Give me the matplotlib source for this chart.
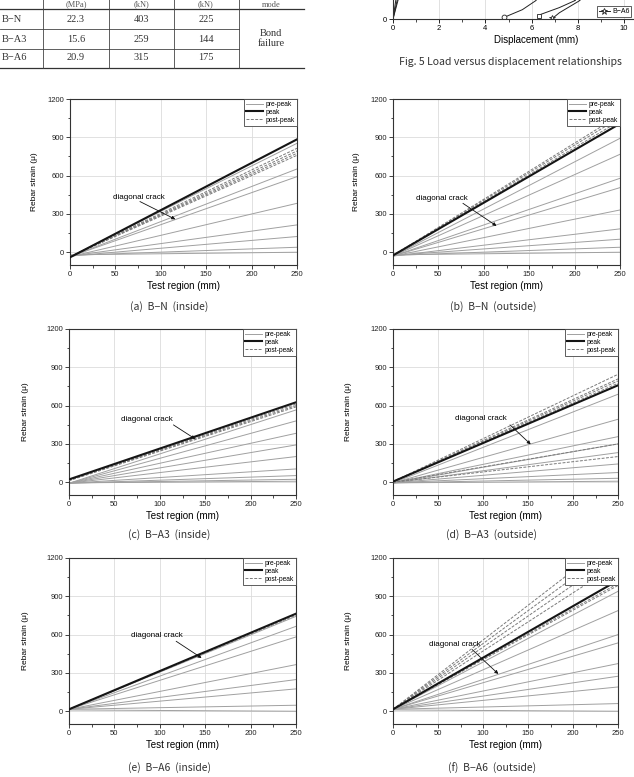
import matplotlib
matplotlib.use('Agg')
import matplotlib.pyplot as plt

W, H = 634, 777

# ===================================
# Data
# ===================================

# table fragment (top left)
specimens = ['B\u2212N', 'B\u2212A3', 'B\u2212A6']
strength_mpa = ['22.3', '15.6', '20.9']
load_1 = ['403', '259', '315']
load_2 = ['225', '144', '175']
table_head = ['(MPa)', '(kN)', '(kN)', 'mode']

# load-displacement fragment (top right)
disp_n = [0, 0.2, 0.4, 1.0, 2.5, 4.0, 5.6, 6.2, 5.6, 4.8]
load_n = [0, 60, 160, 403, 300, 160, 70, 36, 18, 3]
disp_a3 = [0, 0.3, 0.5, 1.2, 3.0, 5.0, 6.8, 7.9, 7.2, 6.4, 6.3]
load_a3 = [0, 60, 140, 259, 200, 120, 60, 36, 22, 9, 5]
disp_a6 = [0, 0.3, 0.7, 1.3, 3.2, 5.5, 7.4, 8.1, 7.2, 6.9]
load_a6 = [0, 50, 150, 315, 230, 120, 60, 36, 12, 1]

# strain distributions: value at x=0 and x=250 mm for every load step
region = [0, 250]

a_pre_start = [-20, -25, -30, -30, -35, -35, -35, -35]
a_pre_end = [0, 39, 123, 214, 383, 592, 652, 853]
a_peak = [-40, 884]
a_post_start = [-35, -35, -35, -35]
a_post_end = [814, 793, 775, 759]

b_pre_start = [-20, -25, -25, -30, -30, -30, -30, -30, -30]
b_pre_end = [0, 39, 102, 183, 331, 506, 579, 767, 892]
b_peak = [-25, 1007]
b_post_start = [-25, -25, -25]
b_post_end = [1030, 1055, 1075]

c_pre_start = [-5, -6, -8, -8, -8, -8, -8, -8, -8]
c_pre_end = [8, 23, 52, 104, 201, 292, 383, 480, 566]
c_peak = [22, 626]
c_post_start = [15, 15, 12]
c_post_end = [612, 600, 590]

d_pre_start = [-5, -5, -5, -5, -5, -5, -5, -5, -5]
d_pre_end = [8, 31, 76, 143, 232, 300, 357, 493, 689]
d_peak = [5, 759]
d_post_start = [5, 5, 5, 5, 0, 0]
d_post_end = [845, 809, 793, 775, 300, 201]

e_pre_start = [10, 15, 15, 15, 15, 15, 15, 15]
e_pre_end = [0, 47, 175, 248, 365, 582, 665, 743]
e_peak = [15, 764]
e_post_start = [15]
e_post_end = [752]

f_pre_start = [10, 15, 15, 15, 15, 15, 15, 15, 15]
f_pre_end = [0, 60, 190, 274, 373, 535, 600, 788, 939]
f_peak = [15, 1025]
f_post_start = [15, 15, 15, 15, 15, 15]
f_post_end = [1372, 1302, 1232, 1155, 1000, 985]

captions = ['(a)  B\u2212N  (inside)', '(b)  B\u2212N  (outside)',
            '(c)  B\u2212A3  (inside)', '(d)  B\u2212A3  (outside)',
            '(e)  B\u2212A6  (inside)', '(f)  B\u2212A6  (outside)']


# ===================================
# Helpers
# ===================================

def box(l, t, r, b):
    """pixel box -> figure fraction"""
    return [l / W, 1 - b / H, (r - l) / W, (b - t) / H]


def draw_panel(ax, pre_s, pre_e, peak, post_s, post_e, txt_xy, tail, tip, ylab_x):
    """One strain distribution panel"""
    h_pre = h_peak = h_post = None
    for s, e in zip(pre_s, pre_e):
        h_pre, = ax.plot(region, [s, e], color='#a0a0a0', lw=0.7, zorder=2)
    for s, e in zip(post_s, post_e):
        h_post, = ax.plot(region, [s, e], color='#7a7a7a', lw=0.7, ls=(0, (3, 1.5)), zorder=3)
    h_peak, = ax.plot(region, peak, color='#151515', lw=1.5, zorder=4)

    ax.set_xlim(0, 250)
    ax.set_ylim(-100, 1200)
    ax.set_xticks(range(0, 251, 50))
    ax.set_xticks(range(0, 251, 25), minor=True)
    ax.set_yticks(range(0, 1201, 300))
    ax.set_yticks(range(0, 1201, 150), minor=True)
    ax.tick_params(which='major', direction='out', length=3, width=0.6, labelsize=5.5, pad=1.5,
                   colors='#222222')
    ax.tick_params(which='minor', direction='out', length=1.8, width=0.5)
    ax.grid(which='major', color='#dcdcdc', lw=0.6, zorder=0)
    for sp in ax.spines.values():
        sp.set_linewidth(0.8)
        sp.set_color('#333333')

    ax.set_xlabel('Test region (mm)', fontsize=7, labelpad=2)
    ax.set_ylabel('Rebar strain (\u03bc)', fontsize=6)
    ax.yaxis.set_label_coords(ylab_x, 0.5)

    leg = ax.legend([h_pre, h_peak, h_post], ['pre-peak', 'peak', 'post-peak'],
                    loc='upper right', borderaxespad=0, fontsize=4.8, handlelength=2.6,
                    handletextpad=0.4, labelspacing=0.12, borderpad=0.3,
                    fancybox=False, framealpha=1, edgecolor='#444444')
    leg.get_frame().set_linewidth(0.6)
    leg.set_zorder(10)

    ax.text(txt_xy[0], txt_xy[1], 'diagonal crack', fontsize=5.8, ha='center', va='center', zorder=6)
    ax.annotate('', xy=tip, xytext=tail,
                arrowprops=dict(arrowstyle='-|>', lw=0.6, color='#111111', mutation_scale=5,
                                shrinkA=0, shrinkB=0), zorder=6)


# ===================================
# Plotting
# ===================================

plt.rcParams['font.family'] = ['Liberation Sans', 'DejaVu Sans']
fig = plt.figure(figsize=(W / 100, H / 100), dpi=100)

# page overlay in pixel coordinates
page = fig.add_axes([0, 0, 1, 1])
page.set_xlim(0, W)
page.set_ylim(H, 0)
page.axis('off')

# table fragment
serif = ['Liberation Serif', 'DejaVu Serif']
page.plot([0, 304], [9, 9], color='#333333', lw=0.9)
page.plot([0, 304], [68, 68], color='#333333', lw=0.9)
page.plot([0, 239], [29, 29], color='#444444', lw=0.6)
page.plot([0, 239], [49, 49], color='#444444', lw=0.6)
for vx in [43, 109, 174, 239]:
    page.plot([vx, vx], [-2, 68], color='#444444', lw=0.6)
col_x = [76, 141, 206, 271]
for cx, t in zip(col_x, table_head):
    page.text(cx, 4.6, t, fontsize=6, ha='center', va='center', family=serif, color='#555555')
for i, row_y in enumerate([19, 39, 58]):
    page.text(2, row_y, specimens[i], fontsize=7.5, ha='left', va='center', family=serif, color='#333333')
    page.text(col_x[0], row_y, strength_mpa[i], fontsize=7.5, ha='center', va='center', family=serif,
              color='#333333')
    page.text(col_x[1], row_y, load_1[i], fontsize=7.5, ha='center', va='center', family=serif,
              color='#333333')
    page.text(col_x[2], row_y, load_2[i], fontsize=7.5, ha='center', va='center', family=serif,
              color='#333333')
page.text(col_x[3], 38.5, 'Bond\nfailure', fontsize=7.5, ha='center', va='center', family=serif,
          color='#333333', linespacing=1.25)

# load-displacement fragment
axf = fig.add_axes(box(393, -240, 680, 19))
axf.plot(disp_n, load_n, color='#222222', lw=0.7, marker='o', mfc='white', ms=3.5, mew=0.6,
         markevery=[len(disp_n) - 1])
axf.plot(disp_a3, load_a3, color='#222222', lw=0.7, marker='s', mfc='white', ms=3.5, mew=0.6,
         markevery=[len(disp_a3) - 1])
h_a6, = axf.plot(disp_a6, load_a6, color='#222222', lw=0.7, marker='*', mfc='white', ms=4.5, mew=0.6,
                 markevery=[len(disp_a6) - 1])
axf.set_xlim(0, (680 - 393) / 23.1)
axf.set_ylim(0, 500)
axf.set_xticks(range(0, 11, 2))
axf.set_xticks(range(0, 11, 1), minor=True)
axf.set_yticks([0])
axf.tick_params(which='major', direction='out', length=3, width=0.6, labelsize=5.5, pad=1.5)
axf.tick_params(which='minor', direction='out', length=1.8, width=0.5)
axf.grid(axis='x', color='#dcdcdc', lw=0.6)
for sp in axf.spines.values():
    sp.set_linewidth(0.8)
    sp.set_color('#333333')
axf.set_xlabel('Displacement (mm)', fontsize=7, labelpad=2)
legf = axf.legend([h_a6], ['B\u2212A6'], loc='lower left', bbox_to_anchor=((597 - 393) / 287, 0.008),
                  fontsize=5, fancybox=False, framealpha=1, edgecolor='#444444', borderaxespad=0,
                  handlelength=1.6, handletextpad=0.3, borderpad=0.25)
legf.get_frame().set_linewidth(0.6)
page.text(399, 62, 'Fig. 5 Load versus displacement relationships', fontsize=7.6, ha='left',
          va='center', family=['Noto Sans CJK KR', 'DejaVu Sans'], color='#333333')

# strain panels
boxes = [box(70, 99, 297, 265), box(393, 99, 620, 265),
         box(69, 329, 296, 495), box(393, 329, 618, 495),
         box(69, 558, 296, 724), box(393, 558, 618, 724)]
panel_args = [
    (a_pre_start, a_pre_end, a_peak, a_post_start, a_post_end, (76, 430), (77, 397), (116, 258), -0.141),
    (b_pre_start, b_pre_end, b_peak, b_post_start, b_post_end, (54, 417), (77, 383), (114, 206), -0.145),
    (c_pre_start, c_pre_end, c_peak, c_post_start, c_post_end, (86, 493), (115, 449), (139, 339), -0.176),
    (d_pre_start, d_pre_end, d_peak, d_post_start, d_post_end, (98, 498), (130, 449), (153, 297), -0.182),
    (e_pre_start, e_pre_end, e_peak, e_post_start, e_post_end, (97, 595), (118, 548), (146, 417), -0.176),
    (f_pre_start, f_pre_end, f_peak, f_post_start, f_post_end, (69, 519), (88, 483), (117, 292), -0.182),
]
for bx, args in zip(boxes, panel_args):
    ax = fig.add_axes(bx)
    draw_panel(ax, *args)

cap_xy = [(169, 307), (493, 307), (169, 535), (492, 535), (170, 768), (492, 768)]
for (cx, cy), cap in zip(cap_xy, captions):
    page.text(cx, cy, cap, fontsize=7.5, ha='center', va='center',
              family=['Noto Sans CJK KR', 'DejaVu Sans'], color='#333333')

plt.savefig('out.png', dpi=100)
